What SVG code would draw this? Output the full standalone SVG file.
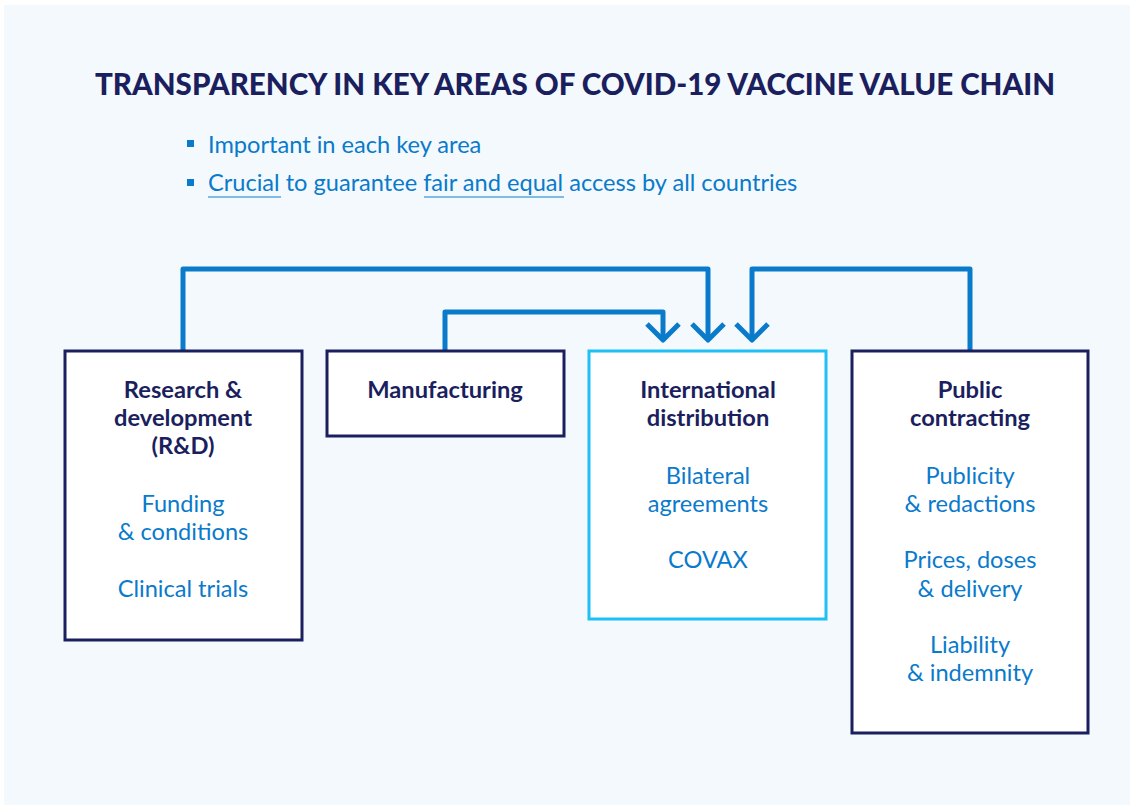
<svg xmlns="http://www.w3.org/2000/svg" width="1134" height="809" viewBox="0 0 1134 809">
<style>
.bg{fill:#f4f9fd}
.box{fill:#ffffff;stroke:#1b1f5e;stroke-width:3}
.boxh{fill:#ffffff;stroke:#1ec0f5;stroke-width:3}
.h{font-family:Lato,"Liberation Sans",sans-serif;font-weight:bold;font-size:23.7px;fill:#1b1f5e;text-anchor:middle}
.t{font-family:Lato,"Liberation Sans",sans-serif;font-size:23.6px;fill:#0a7acb;text-anchor:middle}
.title{font-family:Lato,"Liberation Sans",sans-serif;font-weight:900;font-size:29.7px;fill:#1b1f5e;text-anchor:middle}
.b{font-family:Lato,"Liberation Sans",sans-serif;font-size:23.6px;fill:#0a7acb}
.conn{fill:none;stroke:#0a7acb;stroke-width:5;stroke-linejoin:round}
.ul{stroke:#5aa6dc;stroke-width:1.5}
</style>
<rect x="0" y="0" width="1134" height="809" fill="#ffffff"/>
<rect class="bg" x="4" y="5" width="1126" height="800"/>
<text class="title" x="575" y="95" textLength="960" lengthAdjust="spacingAndGlyphs">TRANSPARENCY IN KEY AREAS OF COVID-19 VACCINE VALUE CHAIN</text>
<g id="bullets">
<rect x="187" y="140" width="7" height="7" fill="#0a7acb"/>
<text class="b" x="208" y="153">Important in each key area</text>
<rect x="187" y="179" width="7" height="7" fill="#0a7acb"/>
<text class="b" x="208" y="191">Crucial to guarantee fair and equal access by all countries</text>
<line class="ul" x1="208" y1="197" x2="281" y2="197"/>
<line class="ul" x1="424" y1="197" x2="564" y2="197"/>
</g>
<g id="connectors">
<path class="conn" d="M183 350 V269 H708 V340"/>
<path class="conn" d="M445 350 V312 H663 V340"/>
<path class="conn" d="M970 350 V269 H752 V340"/>
<path class="conn" d="M647 324 L663 340 L679 324"/>
<path class="conn" d="M692 324 L708 340 L724 324"/>
<path class="conn" d="M736 324 L752 340 L768 324"/>
</g>
<g id="rnd">
<rect class="box" x="65" y="351" width="237" height="289"/>
<text class="h" x="183" y="398">Research &amp;</text>
<text class="h" x="183" y="426">development</text>
<text class="h" x="183" y="454">(R&amp;D)</text>
<text class="t" x="183" y="512">Funding</text>
<text class="t" x="183" y="540">&amp; conditions</text>
<text class="t" x="183" y="597">Clinical trials</text>
</g>
<g id="manufacturing">
<rect class="box" x="327" y="351" width="237" height="85"/>
<text class="h" x="445" y="398">Manufacturing</text>
</g>
<g id="distribution">
<rect class="boxh" x="589" y="351" width="237" height="268"/>
<text class="h" x="708" y="398">International</text>
<text class="h" x="708" y="426">distribution</text>
<text class="t" x="708" y="484">Bilateral</text>
<text class="t" x="708" y="512">agreements</text>
<text class="t" x="708" y="568">COVAX</text>
</g>
<g id="contracting">
<rect class="box" x="852" y="351" width="236" height="382"/>
<text class="h" x="970" y="398">Public</text>
<text class="h" x="970" y="426">contracting</text>
<text class="t" x="970" y="484">Publicity</text>
<text class="t" x="970" y="512">&amp; redactions</text>
<text class="t" x="970" y="568">Prices, doses</text>
<text class="t" x="970" y="597">&amp; delivery</text>
<text class="t" x="970" y="653">Liability</text>
<text class="t" x="970" y="681">&amp; indemnity</text>
</g>
</svg>
